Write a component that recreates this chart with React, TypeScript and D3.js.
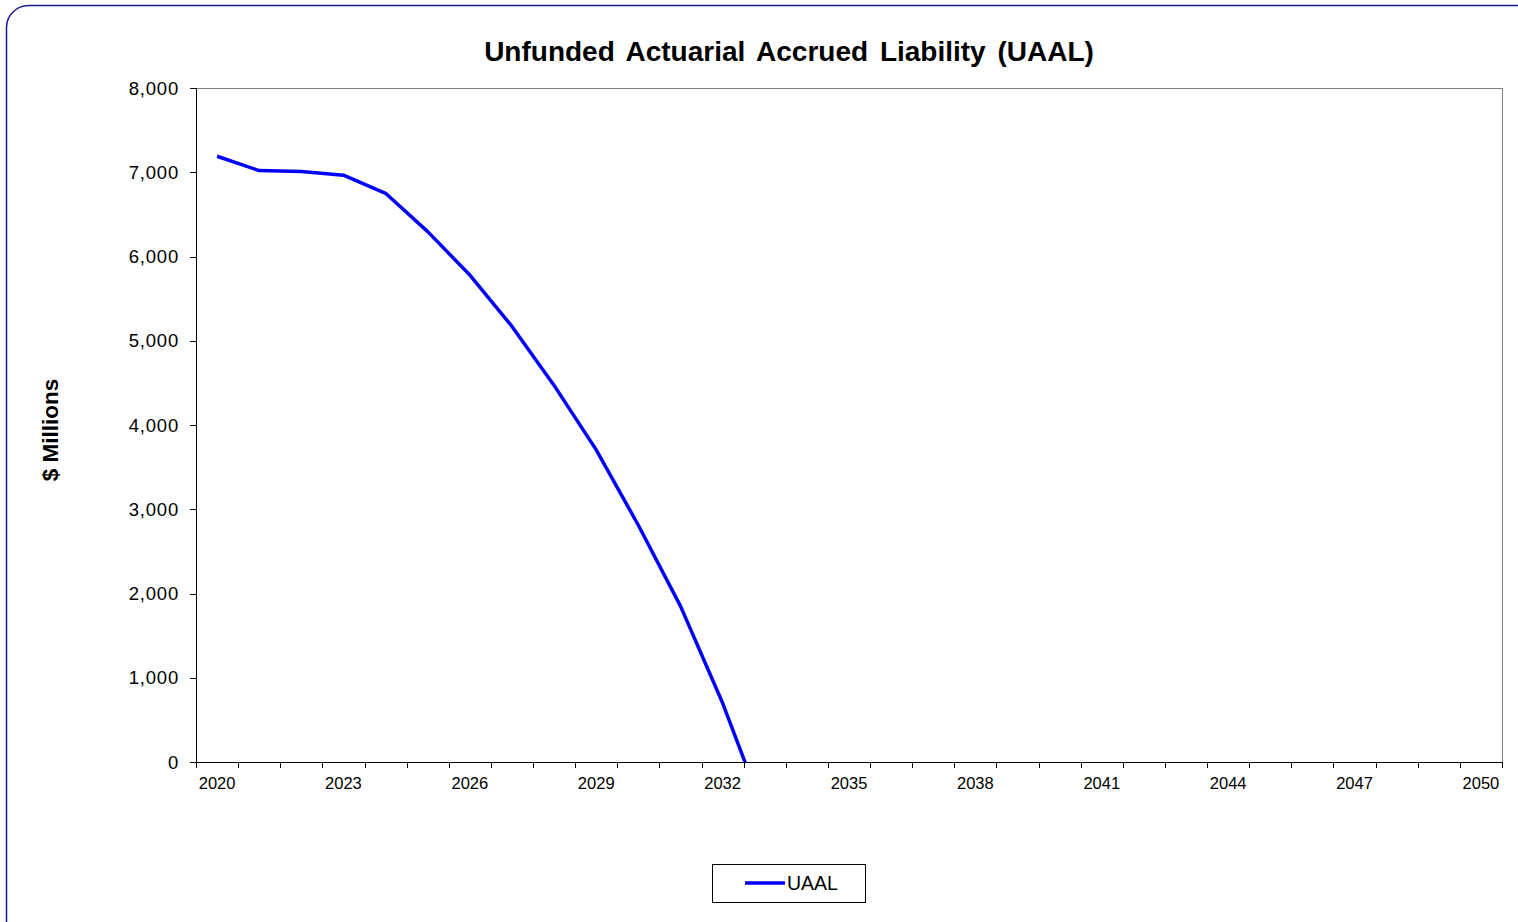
import React from "react";
import * as d3 from "d3";

const years: number[] = d3.range(2020, 2051);
const uaalYears: number[] = [2020, 2021, 2022, 2023, 2024, 2025, 2026, 2027, 2028, 2029, 2030, 2031, 2032, 2033];
const uaalValues: number[] = [7190, 7020, 7010, 6965, 6750, 6295, 5780, 5170, 4470, 3705, 2810, 1850, 700, -620];
const yTicks: number[] = [0, 1000, 2000, 3000, 4000, 5000, 6000, 7000, 8000];
const labelYears: number[] = [2020, 2023, 2026, 2029, 2032, 2035, 2038, 2041, 2044, 2047, 2050];

const W = 1518;
const H = 922;
const L = 196, R = 1502, T = 88, B = 762;
const FONT = "Liberation Sans, Arial, sans-serif";

export default function App() {
  const x = d3.scaleBand<number>().domain(years).range([L, R]).padding(0);
  const y = d3.scaleLinear().domain([0, 8000]).range([B, T]);
  const bw = x.bandwidth();
  const data = uaalYears.map((yr, i) => ({ yr, v: uaalValues[i] }));
  const line = d3
    .line<{ yr: number; v: number }>()
    .x((d) => (x(d.yr) as number) + bw / 2)
    .y((d) => y(d.v));
  const fmt = d3.format(",");

  return (
    <svg
      width={W}
      height={H}
      style={{ position: "absolute", left: 0, top: 0, background: "#fff" }}
      fontFamily={FONT}
    >
      <defs>
        <clipPath id="plotClip">
          <rect x={L} y={T} width={R - L} height={B - T} />
        </clipPath>
      </defs>
      <rect x={6.5} y={5.5} width={1560} height={960} rx={22} ry={22} fill="#fff" stroke="#1c1a8c" strokeWidth={1.5} />

      <text x={789} y={61} textAnchor="middle" fontSize={28} fontWeight="bold" fill="#000" wordSpacing={4}>
        Unfunded Actuarial Accrued Liability (UAAL)
      </text>

      {/* plot border */}
      <line x1={L} y1={T + 0.5} x2={R} y2={T + 0.5} stroke="#808080" strokeWidth={1} />
      <line x1={R + 0.5} y1={T} x2={R + 0.5} y2={B} stroke="#808080" strokeWidth={1} />

      {/* y axis */}
      <line x1={L + 0.5} y1={T} x2={L + 0.5} y2={B} stroke="#000" strokeWidth={1} />
      {yTicks.map((t) => (
        <g key={t}>
          <line x1={L - 6} x2={L} y1={Math.round(y(t)) + 0.5} y2={Math.round(y(t)) + 0.5} stroke="#000" />
          <text x={179} y={y(t) + 6.5} textAnchor="end" fontSize={18.5} letterSpacing={0.8} fill="#000">
            {fmt(t)}
          </text>
        </g>
      ))}

      {/* x axis */}
      <line x1={L} y1={B + 0.5} x2={R + 1} y2={B + 0.5} stroke="#000" strokeWidth={1} />
      {d3.range(years.length + 1).map((i) => {
        const xx = Math.round(L + i * bw) + 0.5;
        return <line key={i} x1={xx} x2={xx} y1={B} y2={B + 6} stroke="#000" />;
      })}
      {labelYears.map((yr) => (
        <text key={yr} x={(x(yr) as number) + bw / 2} y={789} textAnchor="middle" fontSize={16.5} fill="#000">
          {yr}
        </text>
      ))}

      <text
        transform={`translate(58,430) rotate(-90)`}
        textAnchor="middle"
        fontSize={22.5}
        fontWeight="bold"
        fill="#000"
      >
        $ Millions
      </text>

      <path d={line(data) || ""} fill="none" stroke="#0000ff" strokeWidth={3.5} strokeLinejoin="round" clipPath="url(#plotClip)" />

      {/* legend */}
      <rect x={712.5} y={864.5} width={153} height={38} fill="#fff" stroke="#000" strokeWidth={1} />
      <line x1={745} x2={785} y1={883} y2={883} stroke="#0000ff" strokeWidth={3.5} />
      <text x={787} y={890} fontSize={19.5} fill="#000">
        UAAL
      </text>
    </svg>
  );
}
